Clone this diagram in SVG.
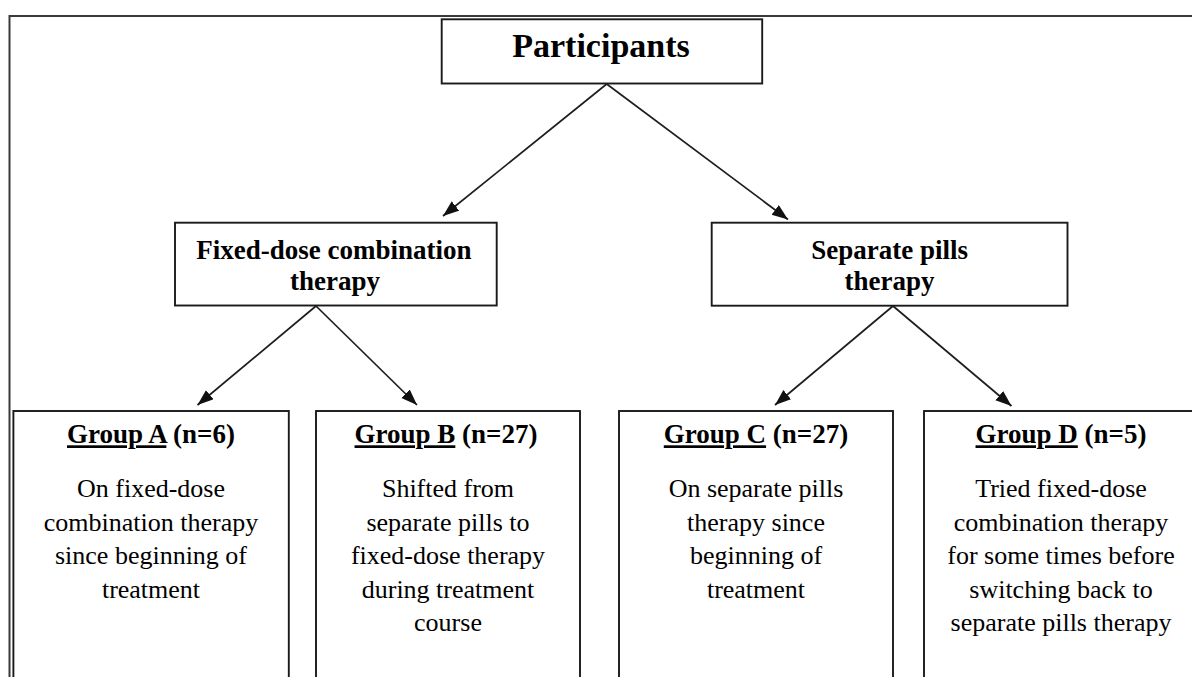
<svg xmlns="http://www.w3.org/2000/svg" width="1192" height="677" viewBox="0 0 1192 677">
<style>
.box{fill:#fff;stroke:#1a1a1a;stroke-width:1.9}
.frame{fill:none;stroke:#3a3a3a;stroke-width:2}
.conn{stroke:#1e1e1e;stroke-width:1.7;fill:none}
.t{font-family:"Liberation Serif","Times New Roman",serif;fill:#000;text-anchor:middle}
.b{font-weight:bold}
.title{font-size:34px}
.mid{font-size:27px}
.head{font-size:27px}
.body{font-size:26px}
.u{text-decoration:underline}
</style>
<defs>
<marker id="ah" markerUnits="userSpaceOnUse" markerWidth="17" markerHeight="13" refX="16" refY="6" orient="auto">
<path d="M0,0 L16,6 L0,12 Z" fill="#111"/>
</marker>
</defs>
<rect width="1192" height="677" fill="#fff"/>
<rect class="frame" x="9.5" y="16" width="1200" height="700"/>
<g id="connectors">
<line class="conn" x1="606.7" y1="84" x2="443" y2="216" marker-end="url(#ah)"/>
<line class="conn" x1="606.7" y1="84" x2="788" y2="219.5" marker-end="url(#ah)"/>
<line class="conn" x1="316" y1="306" x2="197.5" y2="405" marker-end="url(#ah)"/>
<line class="conn" x1="316" y1="306" x2="417" y2="405" marker-end="url(#ah)"/>
<line class="conn" x1="893" y1="306" x2="775" y2="405" marker-end="url(#ah)"/>
<line class="conn" x1="893" y1="306" x2="1011.5" y2="406" marker-end="url(#ah)"/>
</g>
<g id="participants">
<rect class="box" x="441.7" y="19.3" width="320.5" height="64.2"/>
<text class="t b title" x="601" y="57">Participants</text>
</g>
<g id="fixed-dose">
<rect class="box" x="175" y="222.7" width="321.7" height="82.8"/>
<text class="t b mid" x="334" y="258.7">Fixed-dose combination</text>
<text class="t b mid" x="335" y="290">therapy</text>
</g>
<g id="separate">
<rect class="box" x="711.7" y="222.7" width="355.8" height="83"/>
<text class="t b mid" x="889.6" y="258.7">Separate pills</text>
<text class="t b mid" x="889.6" y="290">therapy</text>
</g>
<g id="group-a">
<rect class="box" x="13.4" y="411" width="275.4" height="290"/>
<text class="t b head" x="151" y="443.3"><tspan class="u">Group A</tspan> (n=6)</text>
<text class="t body" x="151" y="497">On fixed-dose</text>
<text class="t body" x="151" y="530.5">combination therapy</text>
<text class="t body" x="151" y="564">since beginning of</text>
<text class="t body" x="151" y="597.5">treatment</text>
</g>
<g id="group-b">
<rect class="box" x="316" y="411" width="264" height="290"/>
<text class="t b head" x="446" y="443.3"><tspan class="u">Group B</tspan> (n=27)</text>
<text class="t body" x="448" y="497">Shifted from</text>
<text class="t body" x="448" y="530.5">separate pills to</text>
<text class="t body" x="448" y="564">fixed-dose therapy</text>
<text class="t body" x="448" y="597.5">during treatment</text>
<text class="t body" x="448" y="631">course</text>
</g>
<g id="group-c">
<rect class="box" x="619" y="411" width="274" height="290"/>
<text class="t b head" x="756" y="443.3"><tspan class="u">Group C</tspan> (n=27)</text>
<text class="t body" x="756" y="497">On separate pills</text>
<text class="t body" x="756" y="530.5">therapy since</text>
<text class="t body" x="756" y="564">beginning of</text>
<text class="t body" x="756" y="597.5">treatment</text>
</g>
<g id="group-d">
<rect class="box" x="924" y="411" width="280" height="290"/>
<text class="t b head" x="1061" y="443.3"><tspan class="u">Group D</tspan> (n=5)</text>
<text class="t body" x="1061" y="497">Tried fixed-dose</text>
<text class="t body" x="1061" y="530.5">combination therapy</text>
<text class="t body" x="1061" y="564">for some times before</text>
<text class="t body" x="1061" y="597.5">switching back to</text>
<text class="t body" x="1061" y="631">separate pills therapy</text>
</g>
</svg>
